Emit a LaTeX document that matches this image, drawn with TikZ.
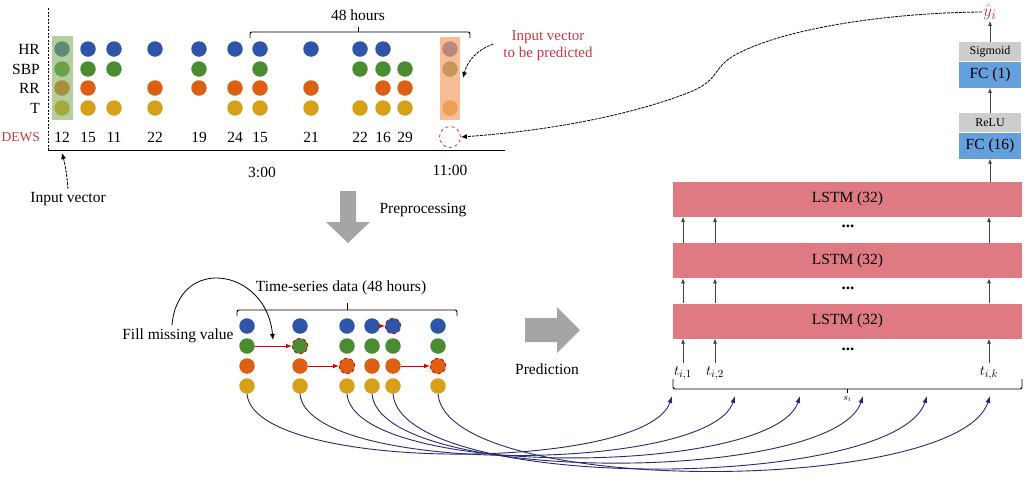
\documentclass[tikz,border=0pt]{standalone}
\usepackage{fontspec}
\setmainfont{Liberation Serif}
\usetikzlibrary{arrows.meta}
\usetikzlibrary{positioning}
\usetikzlibrary{calc}

\definecolor{hrblue}{RGB}{47,85,170}
\definecolor{sbpgreen}{RGB}{75,140,50}
\definecolor{rrorange}{RGB}{220,95,20}
\definecolor{tgold}{RGB}{215,160,25}
\definecolor{dewsred}{RGB}{205,55,65}
\definecolor{lstmred}{RGB}{224,122,130}
\definecolor{fcblue}{RGB}{100,160,220}
\definecolor{actgray}{RGB}{205,205,205}
\definecolor{linknavy}{RGB}{40,40,120}
\definecolor{blockgray}{RGB}{165,165,165}
\definecolor{inputgreen}{RGB}{130,175,90}
\definecolor{targetorange}{RGB}{245,160,105}

\tikzset{
  every node/.style={font=\fontsize{15.5}{18}\selectfont},
  reading/.style={circle, minimum size=15.5pt, inner sep=0pt},
  imputed/.style={reading, draw=red!80!black, dashed, line width=0.8pt},
  rowlabel/.style={anchor=east, inner sep=1pt},
  lstmbox/.style={minimum width=349pt, minimum height=35pt, fill=lstmred, inner sep=0pt},
  fcbox/.style={minimum width=62pt, minimum height=26pt, fill=fcblue, inner sep=0pt},
  actbox/.style={minimum width=62pt, minimum height=19pt, fill=actgray, inner sep=0pt, font=\fontsize{12}{14}\selectfont},
  flow/.style={-{Latex[length=5pt,width=4pt]}, black!75, line width=0.8pt},
  feed/.style={-{Latex[length=7pt,width=5pt]}, linknavy, line width=0.9pt},
  fillarrow/.style={-{Latex[length=6pt,width=4.5pt]}, red!85!black, line width=0.9pt},
  callout/.style={-{Latex[length=6pt,width=5pt]}, dash pattern=on 3pt off 1pt, line width=0.8pt},
  bracket/.style={line width=0.9pt, rounded corners=2pt},
  skip/.style={font=\fontsize{17}{17}\bfseries},
}

\begin{document}
\begin{tikzpicture}[x=1pt, y=1pt]
    \useasboundingbox (0,0) rectangle (1026,-496);

    \draw[dash pattern=on 2pt off 1.5pt, line width=0.8pt] (48,-8) -- (48,-150);
    \draw[line width=0.8pt] (48,-150) -- (505,-150);

    \node[rowlabel] (lblHR) at (41,-49) {HR};
    \node[rowlabel] (lblSBP) at (41,-69) {SBP};
    \node[rowlabel] (lblRR) at (41,-88) {RR};
    \node[rowlabel] (lblT) at (41,-108) {T};
    \node[rowlabel, text=dewsred, font=\fontsize{13.5}{16}\selectfont] (lblDEWS) at (41,-137) {DEWS};

    \foreach \x in {62,88,114,155,199,235,260,311,360,383,450}
      \node[reading, fill=hrblue] (hr\x) at (\x,-49) {};
    \foreach \x in {62,88,114,199,260,360,383,405,450}
      \node[reading, fill=sbpgreen] (sbp\x) at (\x,-69) {};
    \foreach \x in {62,88,155,199,235,260,311,383,405}
      \node[reading, fill=rrorange] (rr\x) at (\x,-88) {};
    \foreach \x in {62,88,114,155,235,260,311,360,383,405,450}
      \node[reading, fill=tgold] (t\x) at (\x,-108) {};
    \foreach \x/\v in {62/12,88/15,114/11,155/22,199/19,235/24,260/15,311/21,360/22,383/16,405/29}
      \node (dews\x) at (\x,-137) {\v};

    \fill[inputgreen, fill opacity=0.6] (52,-36) rectangle (73,-120);
    \fill[targetorange, fill opacity=0.7] (440,-37) rectangle (460,-120);
    \node[circle, draw=dewsred, dashed, line width=0.8pt, minimum size=21pt, inner sep=0pt] (dewsq) at (450,-137) {};

    \draw[bracket] (250,-38) -- (250,-32) -- (470,-32) -- (470,-38);
    \draw[line width=0.9pt] (358,-32) -- (358,-27);
    \node (window) at (358,-15) {48 hours};
    \node (clock3) at (262,-172) {3:00};
    \node (clock11) at (450,-170) {11:00};

    \node (invec) at (68,-199) {Input vector};
    \coordinate (invectip) at (62,-153);
    \draw[callout] (invec.north) to[out=95,in=-75] (invectip);

    \node[text=dewsred, align=center, inner sep=0pt, font=\fontsize{15}{17}\selectfont] (predlbl) at (548,-46) {Input vector\\to be predicted};
    \coordinate (predtip) at (463,-78);
    \draw[callout] ([xshift=-10pt,yshift=2pt]predlbl.west) to[out=200,in=75] (predtip);

    \fill[blockgray] (340,-191) -- (356,-191) -- (356,-222) -- (370,-222) -- (348,-243) -- (326,-222) -- (340,-222) -- cycle;
    \node (prep) at (423,-210) {Preprocessing};

    \node (tsd) at (341,-288) {Time-series data (48 hours)};
    \draw[bracket] (237,-316) -- (237,-310) -- (457,-310) -- (457,-316);
    \draw[line width=0.9pt] (347,-310) -- (347,-303);

    \foreach \c/\x in {1/247,2/300,3/347,4/372,5/393,6/438} {
      \node[reading, fill=hrblue] (hrb\c) at (\x,-326) {};
      \node[reading, fill=sbpgreen] (sbpb\c) at (\x,-346) {};
      \node[reading, fill=rrorange] (rrb\c) at (\x,-366) {};
      \node[reading, fill=tgold] (tb\c) at (\x,-386) {};
    }
    \foreach \n in {sbpb2,rrb3,hrb5,rrb6}
      \node[imputed] at (\n) {};

    \draw[fillarrow] (sbpb1) -- (sbpb2);
    \draw[fillarrow] (rrb2) -- (rrb3);
    \draw[fillarrow] (hrb4) -- (hrb5);
    \draw[fillarrow] (rrb5) -- (rrb6);

    \node[anchor=east] (fillnote) at (237,-336) {Fill missing value};
    \coordinate (filltip) at (273,-340);
    \draw[-{Latex[length=6pt,width=5pt]}, line width=0.8pt] ([xshift=-6pt]fillnote.north) to[out=85,in=95,looseness=1.8] (filltip);

    \fill[blockgray] (525,-318) -- (557,-318) -- (557,-307) -- (580,-330) -- (557,-353) -- (557,-342) -- (525,-342) -- cycle;
    \node (pred) at (547,-369) {Prediction};

    \node[lstmbox] (lstm1) at (847.5,-321) {LSTM (32)};
    \node[lstmbox, above=25pt of lstm1] (lstm2) {LSTM (32)};
    \node[lstmbox, above=26pt of lstm2] (lstm3) {LSTM (32)};

    \node[fcbox] (fc16) at (990,-145.5) {FC (16)};
    \node[actbox, above=0pt of fc16] (relu) {ReLU};
    \node[fcbox, above=25pt of relu] (fc1) {FC (1)};
    \node[actbox, above=0pt of fc1] (sig) {Sigmoid};
    \node[text=dewsred, inner sep=1pt, font=\fontsize{19}{20}\selectfont] (yhat) at (990,-12) {$\hat{y}_i$};

    \draw[flow] (lstm3.north -| fc16) -- (fc16.south);
    \draw[flow] (relu.north) -- (fc1.south);
    \draw[flow] (sig.north) -- (yhat.south);

    \node (ti1) at (683,-373) {$t_{i,1}$};
    \node (ti2) at (715,-373) {$t_{i,2}$};
    \node (tik) at (989,-373) {$t_{i,k}$};
    \foreach \t in {ti1,ti2,tik} {
      \draw[flow] (\t.north) -- (\t |- lstm1.south);
      \draw[flow] (\t |- lstm1.north) -- (\t |- lstm2.south);
      \draw[flow] (\t |- lstm2.north) -- (\t |- lstm3.south);
    }
    \node[skip] (gap1) at (848,-349) {...};
    \node[skip] (gap2) at (848,-288) {...};
    \node[skip] (gap3) at (848,-226) {...};

    \draw[bracket] (673,-379) -- (673,-389) -- (1022,-389) -- (1022,-379);
    \draw[line width=0.9pt] (847.5,-389) -- (847.5,-393);
    \node[font=\fontsize{10}{12}\selectfont] (si) at (847.5,-399) {$s_i$};

    \draw[callout] (yhat.west) .. controls (880,-13) and (780,-30) .. (735,-55)
      .. controls (712,-68) and (720,-80) .. (690,-92)
      .. controls (640,-112) and (560,-130) .. (dewsq.east);

    \foreach \c/\x in {1/672,2/735,3/800,4/863,5/927,6/990} {
      \coordinate (s\c) at (\x,-396);
      \draw[feed] (tb\c.south) to[out=-85,in=-108,looseness=0.48] (s\c);
    }
\end{tikzpicture}
\end{document}
